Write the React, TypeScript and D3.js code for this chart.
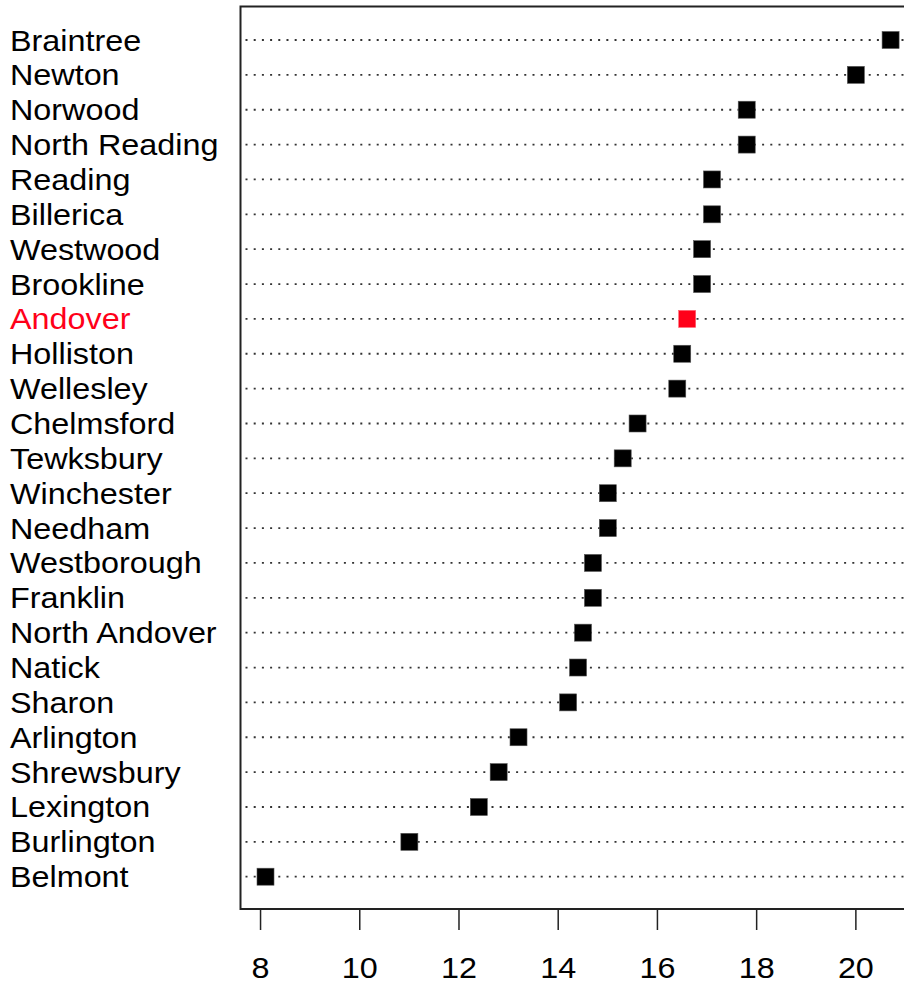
import React from "react";
import * as d3 from "d3";

const towns = [
  "Braintree", "Newton", "Norwood", "North Reading", "Reading", "Billerica",
  "Westwood", "Brookline", "Andover", "Holliston", "Wellesley", "Chelmsford",
  "Tewksbury", "Winchester", "Needham", "Westborough", "Franklin",
  "North Andover", "Natick", "Sharon", "Arlington", "Shrewsbury", "Lexington",
  "Burlington", "Belmont",
];
const values = [
  20.7, 20.0, 17.8, 17.8, 17.1, 17.1, 16.9, 16.9, 16.6, 16.5, 16.4, 15.6,
  15.3, 15.0, 15.0, 14.7, 14.7, 14.5, 14.4, 14.2, 13.2, 12.8, 12.4, 11.0, 8.1,
];
const highlight = "Andover";
const xTicks = [8, 10, 12, 14, 16, 18, 20];

const W = 904;
const H = 986;

export default function App() {
  const lo = d3.min(values)!;
  const hi = d3.max(values)!;
  const pad = (hi - lo) * 0.04;
  const x = d3.scaleLinear().domain([lo - pad, hi + pad]).range([240.5, 915.6]);
  const y = d3
    .scaleLinear()
    .domain([0, towns.length - 1])
    .range([40, 876.7]);

  const boxTop = 6.5;
  const boxBottom = 909;
  const boxLeft = x(lo - pad);
  const boxRight = x(hi + pad);
  const sq = 17;
  const sx = 1.115;
  const fs = 29;
  const font = "'Liberation Sans', Arial, sans-serif";

  return (
    <svg
      width={W}
      height={H}
      style={{ position: "absolute", left: 0, top: 0, background: "#fff" }}
    >
      <rect x={0} y={0} width={W} height={H} fill="#fff" />
      {towns.map((t, i) => (
        <line
          key={"l" + t}
          x1={boxLeft + 5}
          x2={boxRight}
          y1={y(i)}
          y2={y(i)}
          stroke="#333"
          strokeWidth={1.8}
          strokeDasharray="2 6.2"
        />
      ))}
      {towns.map((t, i) => (
        <rect
          key={"p" + t}
          x={x(values[i]) - sq / 2}
          y={y(i) - sq / 2}
          width={sq}
          height={sq}
          fill={t === highlight ? "#ff0019" : "#000"}
          stroke={t === highlight ? "#ff6070" : "#555"}
          strokeWidth={0.6}
        />
      ))}
      {towns.map((t, i) => (
        <g key={"t" + t} transform={`translate(10,${y(i) + 10.5}) scale(${sx},1)`}>
          <text
            x={0}
            y={0}
            fontFamily={font}
            fontSize={fs}
            fill={t === highlight ? "#ff0019" : "#000"}
          >
            {t}
          </text>
        </g>
      ))}
      <rect
        x={boxLeft}
        y={boxTop}
        width={boxRight - boxLeft}
        height={boxBottom - boxTop}
        fill="none"
        stroke="#222"
        strokeWidth={2}
      />
      {xTicks.map((v) => (
        <g key={"x" + v}>
          <line x1={x(v)} x2={x(v)} y1={boxBottom} y2={930} stroke="#222" strokeWidth={1.5} />
          <g transform={`translate(${x(v)},978) scale(${sx},1)`}>
            <text x={0} y={0} textAnchor="middle" fontFamily={font} fontSize={fs} fill="#000">
              {v}
            </text>
          </g>
        </g>
      ))}
    </svg>
  );
}
